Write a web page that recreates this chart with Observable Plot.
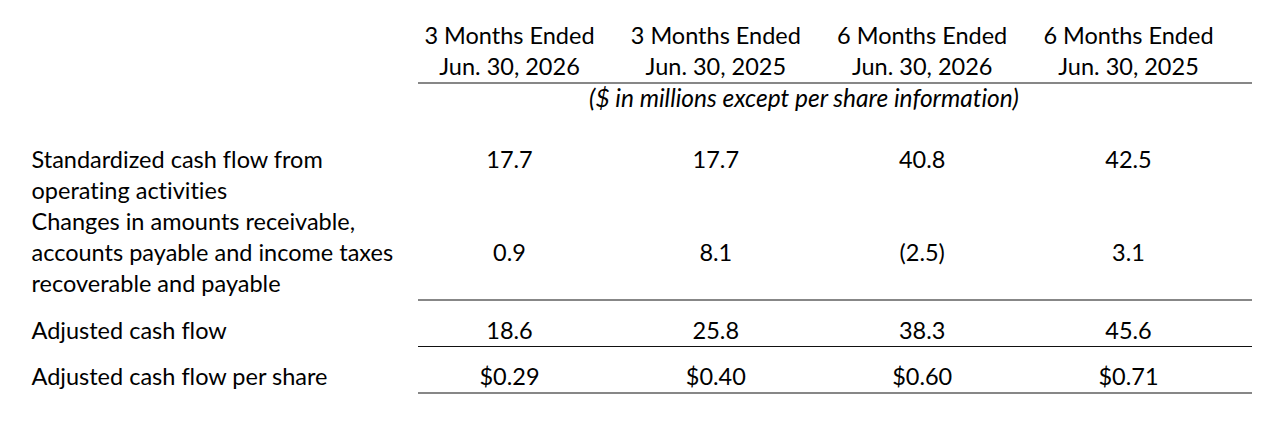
<!DOCTYPE html>
<html><head><meta charset="utf-8">
<script src="https://cdn.jsdelivr.net/npm/d3@7"></script>
<script src="https://cdn.jsdelivr.net/npm/@observablehq/plot@0.6"></script>
<style>body{margin:0;background:#fff} svg text{font-variant-ligatures:none}</style>
</head><body><div id="chart"></div>
<script>
// ---- data ----
const columnHeaders = ["3 Months Ended\nJun. 30, 2026", "3 Months Ended\nJun. 30, 2025", "6 Months Ended\nJun. 30, 2026", "6 Months Ended\nJun. 30, 2025"];
const unitsNote = "($ in millions except per share information)";
const rowLabels = [
  "Standardized cash flow from\noperating activities",
  "Changes in amounts receivable,\naccounts payable and income taxes\nrecoverable and payable",
  "Adjusted cash flow",
  "Adjusted cash flow per share"
];
const standardizedCashFlow = [17.7, 17.7, 40.8, 42.5];
const workingCapitalChanges = [0.9, 8.1, -2.5, 3.1];
const adjustedCashFlow = [18.6, 25.8, 38.3, 45.6];
const adjustedCashFlowPerShare = [0.29, 0.40, 0.60, 0.71];

// ---- formatting ----
const fmtM = v => v < 0 ? `(${d3.format(".1f")(-v)})` : d3.format(".1f")(v);
const fmtS = v => "$" + d3.format(".2f")(v);
const rows = [
  {label: rowLabels[0], values: standardizedCashFlow, fmt: fmtM, underline: false},
  {label: rowLabels[1], values: workingCapitalChanges, fmt: fmtM, underline: true},
  {label: rowLabels[2], values: adjustedCashFlow, fmt: fmtM, underline: true},
  {label: rowLabels[3], values: adjustedCashFlowPerShare, fmt: fmtS, underline: true}
];

// ---- layout on a half-line grid (k units) ----
const headerTexts = [], labelTexts = [], valueTexts = [], rules = [];
let k = 0;
columnHeaders.forEach((h, c) => h.split("\n").forEach((line, j) => headerTexts.push({col: c, k: 2 * j, text: line})));
k = 2 * (columnHeaders[0].split("\n").length - 1);
k += 1; rules.push({k});
k += 1; const noteK = k;
k += 4;
rows.forEach((r, ri) => {
  const lines = r.label.split("\n");
  if (ri > 0) k += 2;
  const startK = k;
  lines.forEach((line, j) => labelTexts.push({k: startK + 2 * j, text: line}));
  const vk = startK + 2 * Math.floor((lines.length - 1) / 2);
  r.values.forEach((v, c) => valueTexts.push({col: c, k: vk, text: r.fmt(v)}));
  k = startK + 2 * (lines.length - 1);
  if (r.underline) { k += 1; rules.push({k}); }
});
const maxK = k;

const font = "Lato";
const fs = 23.5;
const chart = Plot.plot({
  width: 1278,
  height: 430,
  margin: 0,
  style: {fontFamily: font, fontSize: fs + "px", color: "#000", background: "#fff"},
  x: {type: "linear", domain: [0, 3], range: [509, 1128], axis: null},
  y: {type: "linear", domain: [0, maxK], range: [36, 392.5], axis: null},
  marks: [
    Plot.ruleY(rules, {y: "k", x1: () => 0, x2: () => 3, insetLeft: -91, insetRight: -124, stroke: "#111", strokeWidth: 1.1}),
    Plot.text(headerTexts, {x: "col", y: "k", text: "text", fontSize: fs, fill: "#000"}),
    Plot.text([unitsNote], {x: () => 1.5, y: () => noteK, dx: -15, dy: 1, text: d => d, fontSize: 24.5, fontStyle: "italic", fill: "#000"}),
    Plot.text(labelTexts, {frameAnchor: "left", dx: 31, y: "k", text: "text", textAnchor: "start", fontSize: fs, fill: "#000"}),
    Plot.text(valueTexts, {x: "col", y: "k", text: "text", fontSize: fs, fill: "#000"})
  ]
});
document.getElementById("chart").append(chart);
</script>
</body></html>
